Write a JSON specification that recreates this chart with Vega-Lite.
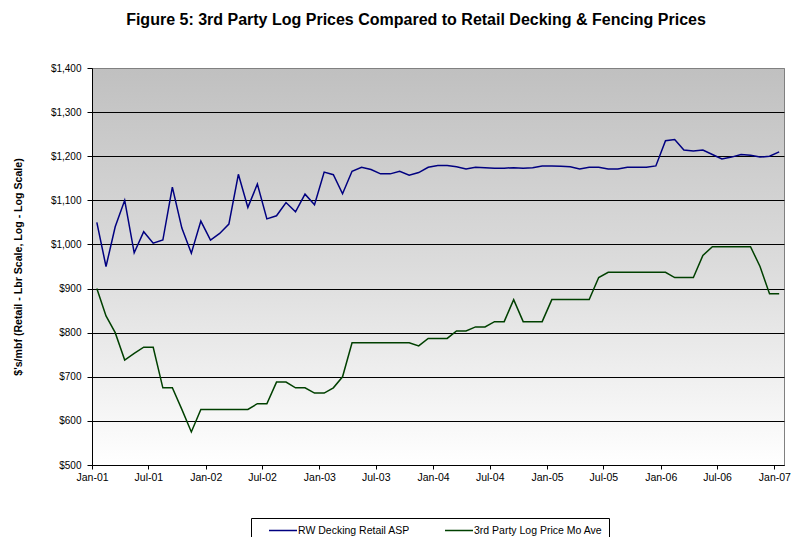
{
  "$schema": "https://vega.github.io/schema/vega-lite/v6.json",
  "width": 692,
  "height": 397,
  "autosize": {"type": "none"},
  "padding": {"left": 92, "top": 68, "right": 7, "bottom": 72},
  "background": "#ffffff",
  "title": {
    "text": "Figure 5: 3rd Party Log Prices Compared to Retail Decking & Fencing Prices",
    "font": "Liberation Sans",
    "fontSize": 16,
    "fontWeight": "bold",
    "color": "#000000",
    "anchor": "middle",
    "frame": "group",
    "dx": -22,
    "offset": 35
  },
  "data": {
    "values": [
      {"month": "2001-01", "rw": 1050, "log": 900},
      {"month": "2001-02", "rw": 950, "log": 838},
      {"month": "2001-03", "rw": 1040, "log": 800},
      {"month": "2001-04", "rw": 1100, "log": 738},
      {"month": "2001-05", "rw": 981, "log": 753},
      {"month": "2001-06", "rw": 1029, "log": 767},
      {"month": "2001-07", "rw": 1003, "log": 767},
      {"month": "2001-08", "rw": 1010, "log": 675},
      {"month": "2001-09", "rw": 1130, "log": 675},
      {"month": "2001-10", "rw": 1037, "log": 626},
      {"month": "2001-11", "rw": 980, "log": 575},
      {"month": "2001-12", "rw": 1053, "log": 626},
      {"month": "2002-01", "rw": 1010, "log": 626},
      {"month": "2002-02", "rw": 1025, "log": 626},
      {"month": "2002-03", "rw": 1046, "log": 626},
      {"month": "2002-04", "rw": 1159, "log": 626},
      {"month": "2002-05", "rw": 1084, "log": 626},
      {"month": "2002-06", "rw": 1137, "log": 639},
      {"month": "2002-07", "rw": 1058, "log": 639},
      {"month": "2002-08", "rw": 1065, "log": 688},
      {"month": "2002-09", "rw": 1095, "log": 688},
      {"month": "2002-10", "rw": 1074, "log": 675},
      {"month": "2002-11", "rw": 1114, "log": 675},
      {"month": "2002-12", "rw": 1090, "log": 663},
      {"month": "2003-01", "rw": 1164, "log": 663},
      {"month": "2003-02", "rw": 1158, "log": 675},
      {"month": "2003-03", "rw": 1115, "log": 700},
      {"month": "2003-04", "rw": 1166, "log": 777},
      {"month": "2003-05", "rw": 1175, "log": 777},
      {"month": "2003-06", "rw": 1170, "log": 777},
      {"month": "2003-07", "rw": 1160, "log": 777},
      {"month": "2003-08", "rw": 1160, "log": 777},
      {"month": "2003-09", "rw": 1166, "log": 777},
      {"month": "2003-10", "rw": 1157, "log": 777},
      {"month": "2003-11", "rw": 1163, "log": 770},
      {"month": "2003-12", "rw": 1175, "log": 787},
      {"month": "2004-01", "rw": 1179, "log": 787},
      {"month": "2004-02", "rw": 1179, "log": 787},
      {"month": "2004-03", "rw": 1176, "log": 804},
      {"month": "2004-04", "rw": 1171, "log": 804},
      {"month": "2004-05", "rw": 1175, "log": 813},
      {"month": "2004-06", "rw": 1174, "log": 813},
      {"month": "2004-07", "rw": 1173, "log": 825},
      {"month": "2004-08", "rw": 1173, "log": 825},
      {"month": "2004-09", "rw": 1174, "log": 875},
      {"month": "2004-10", "rw": 1173, "log": 825},
      {"month": "2004-11", "rw": 1174, "log": 825},
      {"month": "2004-12", "rw": 1178, "log": 825},
      {"month": "2005-01", "rw": 1178, "log": 875},
      {"month": "2005-02", "rw": 1177, "log": 875},
      {"month": "2005-03", "rw": 1176, "log": 875},
      {"month": "2005-04", "rw": 1171, "log": 875},
      {"month": "2005-05", "rw": 1175, "log": 875},
      {"month": "2005-06", "rw": 1175, "log": 925},
      {"month": "2005-07", "rw": 1171, "log": 937},
      {"month": "2005-08", "rw": 1171, "log": 937},
      {"month": "2005-09", "rw": 1175, "log": 937},
      {"month": "2005-10", "rw": 1175, "log": 937},
      {"month": "2005-11", "rw": 1175, "log": 937},
      {"month": "2005-12", "rw": 1178, "log": 937},
      {"month": "2006-01", "rw": 1235, "log": 937},
      {"month": "2006-02", "rw": 1238, "log": 925},
      {"month": "2006-03", "rw": 1214, "log": 925},
      {"month": "2006-04", "rw": 1212, "log": 925},
      {"month": "2006-05", "rw": 1214, "log": 975},
      {"month": "2006-06", "rw": 1204, "log": 995},
      {"month": "2006-07", "rw": 1194, "log": 995},
      {"month": "2006-08", "rw": 1198, "log": 995},
      {"month": "2006-09", "rw": 1204, "log": 995},
      {"month": "2006-10", "rw": 1202, "log": 995},
      {"month": "2006-11", "rw": 1198, "log": 950},
      {"month": "2006-12", "rw": 1200, "log": 888},
      {"month": "2007-01", "rw": 1210, "log": 888}
    ]
  },
  "transform": [
    {"fold": ["rw", "log"], "as": ["series", "price"]}
  ],
  "mark": {"type": "line", "strokeWidth": 1.5},
  "encoding": {
    "x": {
      "field": "month",
      "timeUnit": "utcyearmonth",
      "type": "temporal",
      "bandPosition": 0.5,
      "scale": {
        "type": "utc",
        "nice": false,
        "domain": [
          {"year": 2001, "month": 1, "date": 1, "utc": true},
          {"year": 2007, "month": 2, "date": 1, "utc": true}
        ]
      },
      "axis": {
        "title": null,
        "grid": false,
        "format": "%b-%y",
        "values": [
          {"year": 2001, "month": 1, "date": 1, "utc": true},
          {"year": 2001, "month": 7, "date": 1, "utc": true},
          {"year": 2002, "month": 1, "date": 1, "utc": true},
          {"year": 2002, "month": 7, "date": 1, "utc": true},
          {"year": 2003, "month": 1, "date": 1, "utc": true},
          {"year": 2003, "month": 7, "date": 1, "utc": true},
          {"year": 2004, "month": 1, "date": 1, "utc": true},
          {"year": 2004, "month": 7, "date": 1, "utc": true},
          {"year": 2005, "month": 1, "date": 1, "utc": true},
          {"year": 2005, "month": 7, "date": 1, "utc": true},
          {"year": 2006, "month": 1, "date": 1, "utc": true},
          {"year": 2006, "month": 7, "date": 1, "utc": true},
          {"year": 2007, "month": 1, "date": 1, "utc": true}
        ],
        "tickSize": 4,
        "labelPadding": 3,
        "labelFlush": false,
        "labelOverlap": false
      }
    },
    "y": {
      "field": "price",
      "type": "quantitative",
      "scale": {"domain": [500, 1400], "nice": false, "zero": false},
      "axis": {
        "title": "$'s/mbf (Retail - Lbr Scale, Log - Log Scale)",
        "values": [500, 600, 700, 800, 900, 1000, 1100, 1200, 1300, 1400],
        "format": "$,.0f",
        "grid": true,
        "gridColor": {
          "condition": {"test": "datum.value >= 1400", "value": "#808080"},
          "value": "#000000"
        },
        "labelFontSize": 10,
        "tickSize": 5,
        "labelPadding": 6,
        "titleFontSize": 10.6,
        "titlePadding": 27
      }
    },
    "color": {
      "field": "series",
      "type": "nominal",
      "scale": {"domain": ["rw", "log"], "range": ["#000080", "#004000"]},
      "legend": {
        "title": null,
        "orient": "none",
        "legendX": 159,
        "legendY": 450,
        "direction": "horizontal",
        "symbolType": "stroke",
        "symbolSize": 784,
        "symbolStrokeWidth": 1.5,
        "symbolOffset": 11,
        "labelOffset": 0,
        "columnPadding": 23,
        "clipHeight": 13,
        "padding": 6,
        "strokeColor": "#000000",
        "fillColor": "#ffffff",
        "labelExpr": "datum.value === 'rw' ? 'RW Decking Retail ASP' : '3rd Party Log Price Mo Ave'"
      }
    }
  },
  "config": {
    "view": {
      "stroke": "#808080",
      "fill": {
        "gradient": "linear",
        "x1": 0, "y1": 0, "x2": 0, "y2": 1,
        "stops": [
          {"offset": 0, "color": "#c0c0c0"},
          {"offset": 0.5, "color": "#dcdcdc"},
          {"offset": 1, "color": "#ffffff"}
        ]
      }
    },
    "axis": {
      "labelFont": "Liberation Sans",
      "labelFontSize": 10.5,
      "labelColor": "#000000",
      "titleFont": "Liberation Sans",
      "titleFontSize": 10,
      "titleFontWeight": "bold",
      "titleColor": "#000000",
      "domainColor": "#000000",
      "tickColor": "#000000",
      "gridWidth": 1
    },
    "legend": {
      "labelFont": "Liberation Sans",
      "labelFontSize": 10.5,
      "labelColor": "#000000"
    }
  }
}
